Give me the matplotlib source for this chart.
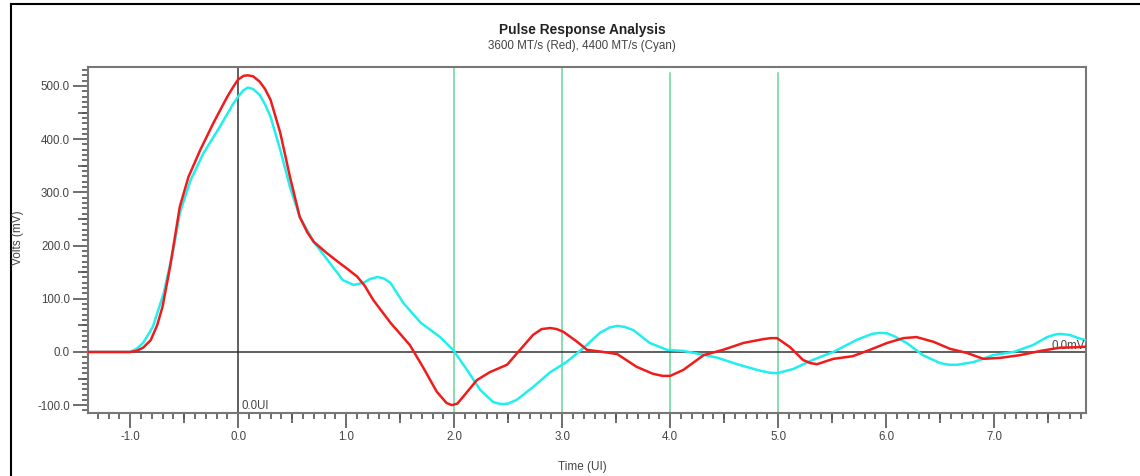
import matplotlib
matplotlib.use('Agg')
import matplotlib.pyplot as plt
from matplotlib.ticker import MultipleLocator, FormatStrFormatter
from matplotlib.lines import Line2D

plt.rcParams['font.family'] = ['Liberation Sans', 'DejaVu Sans']

# Pulse response, 3600 MT/s (red)
t_red = [-1.40, -1.0, -0.94, -0.88, -0.81, -0.75, -0.70, -0.63, -0.54, -0.46,
         -0.35, -0.23, -0.10, -0.04, 0.0, 0.05, 0.09, 0.14, 0.2, 0.25, 0.30,
         0.39, 0.48, 0.57, 0.64, 0.70, 0.82, 0.94, 1.0, 1.10, 1.17, 1.25,
         1.41, 1.59, 1.71, 1.84, 1.93, 1.98, 2.03, 2.08, 2.21, 2.33, 2.49,
         2.61, 2.73, 2.81, 2.89, 2.95, 3.01, 3.14, 3.23, 3.38, 3.51, 3.69,
         3.84, 3.93, 4.0, 4.12, 4.31, 4.49, 4.68, 4.86, 4.93, 4.99, 5.11,
         5.23, 5.30, 5.36, 5.51, 5.69, 5.85, 6.01, 6.16, 6.28, 6.44, 6.59,
         6.75, 6.90, 7.06, 7.24, 7.43, 7.61, 7.78, 7.85]
v_red = [0, 0, 2, 8, 22, 50, 85, 160, 273, 329,
         380, 430, 480, 500, 512, 519, 520, 518, 508, 494, 474,
         412, 329, 254, 225, 207, 186, 167, 158, 142, 125, 98,
         55, 13, -28, -75, -96, -100, -97, -85, -53, -38, -24,
         4, 32, 43, 45, 43, 38, 19, 4, 0, -4, -28,
         -41, -45, -45, -34, -6, 4, 17, 24, 26, 26, 9,
         -15, -21, -23, -13, -8, 4, 17, 26, 28, 19, 6,
         -2, -13, -11, -6, 2, 8, 9, 10]

# Pulse response, 4400 MT/s (cyan)
t_cyan = [-1.40, -1.0, -0.94, -0.88, -0.79, -0.69, -0.60, -0.54, -0.44, -0.32,
          -0.17, -0.05, 0.0, 0.05, 0.09, 0.14, 0.2, 0.25, 0.30, 0.39, 0.48,
          0.57, 0.70, 0.85, 0.97, 1.07, 1.16, 1.22, 1.29, 1.35, 1.41, 1.53,
          1.69, 1.87, 1.99, 2.12, 2.24, 2.36, 2.41, 2.45, 2.50, 2.58, 2.73,
          2.89, 3.04, 3.20, 3.35, 3.44, 3.51, 3.58, 3.66, 3.81, 3.97, 4.12,
          4.28, 4.44, 4.62, 4.81, 4.92, 4.99, 5.14, 5.32, 5.51, 5.73, 5.87,
          5.94, 6.01, 6.07, 6.19, 6.34, 6.50, 6.58, 6.66, 6.81, 6.99, 7.18,
          7.36, 7.49, 7.57, 7.61, 7.70, 7.78, 7.85]
v_cyan = [0, 0, 6, 17, 47, 110, 192, 261, 323, 374,
          423, 465, 480, 492, 497, 494, 483, 465, 442, 380, 310,
          254, 207, 167, 135, 126, 130, 137, 141, 138, 130, 92,
          55, 28, 4, -34, -71, -94, -97, -98, -97, -90, -66,
          -38, -19, 8, 36, 46, 49, 47, 41, 17, 4, 2,
          -4, -11, -23, -34, -39, -40, -32, -15, 0, 23, 34,
          36, 35, 30, 17, -6, -21, -24, -24, -19, -6, 0,
          13, 28, 33, 34, 32, 26, 22]

# UI markers (green) and how far up each one reaches (axes fraction)
ui_marks = [2.0, 3.0, 4.0, 5.0]
ui_tops = [1.0, 1.0, 0.983, 0.983]

fig = plt.figure(figsize=(11.4, 4.76), dpi=100)
ax = fig.add_axes([0.0772, 0.1324, 0.8754, 0.7269])

for x, top in zip(ui_marks, ui_tops):
    ax.axvline(x, ymax=top, color='#66d699', lw=1.1, zorder=1)
ax.axhline(0, color='#333333', lw=1.1, zorder=2)
ax.axvline(0, color='#333333', lw=1.1, zorder=2)

ax.plot(t_cyan, v_cyan, color='#22eeee', lw=1.8, zorder=3)
ax.plot(t_red, v_red, color='#f01c1c', lw=1.8, zorder=4)

ax.set_xlim(-1.39, 7.85)
ax.set_ylim(-114.7, 535.7)

for s in ax.spines.values():
    s.set_color('#777777')
    s.set_linewidth(1.5)

ax.xaxis.set_major_locator(MultipleLocator(1))
ax.xaxis.set_minor_locator(MultipleLocator(0.1))
ax.yaxis.set_major_locator(MultipleLocator(100))
ax.yaxis.set_minor_locator(MultipleLocator(10))
ax.xaxis.set_major_formatter(FormatStrFormatter('%.1f'))
ax.yaxis.set_major_formatter(FormatStrFormatter('%.1f'))
ax.tick_params(which='major', length=11, width=1.2, color='#555555',
               labelsize=8.3, labelcolor='#444444', pad=2)
ax.tick_params(which='minor', length=4.3, width=1.2, color='#555555')

# half-step ticks, medium length
sx = ax.secondary_xaxis('bottom')
sx.set_xticks([h + 0.5 for h in range(-2, 8)])
sx.tick_params(length=7.5, width=1.2, color='#555555', labelbottom=False)
sx.spines['bottom'].set_visible(False)
sy = ax.secondary_yaxis('left')
sy.set_yticks([h * 100 + 50 for h in range(-2, 6)])
sy.tick_params(length=7.5, width=1.2, color='#555555', labelleft=False)
sy.spines['left'].set_visible(False)

ax.text(0.03, -112, '0.0UI', fontsize=8.3, color='#444444', va='bottom', ha='left')
ax.text(0.999, 0, '0.0mV', transform=ax.get_yaxis_transform(), fontsize=8.3,
        color='#444444', va='bottom', ha='right')

fig.text(0.5105, 0.937, 'Pulse Response Analysis', ha='center', va='center',
         fontsize=9.9, fontweight='bold', color='#222222')
fig.text(0.5105, 0.903, '3600 MT/s (Red), 4400 MT/s (Cyan)', ha='center',
         va='center', fontsize=8.4, color='#444444')
fig.text(0.016, 0.5, 'Volts (mV)', rotation=90, ha='center', va='center',
         fontsize=8.5, color='#444444')
fig.text(0.511, 0.019, 'Time (UI)', ha='center', va='center', fontsize=8.5,
         color='#444444')

# outer frame of the screenshot
fig.add_artist(Line2D([0.0096, 0.0096], [0.0, 0.992], color='black', lw=1.5))
fig.add_artist(Line2D([0.0096, 1.0], [0.992, 0.992], color='black', lw=1.5))

fig.savefig('out.png', dpi=100)
